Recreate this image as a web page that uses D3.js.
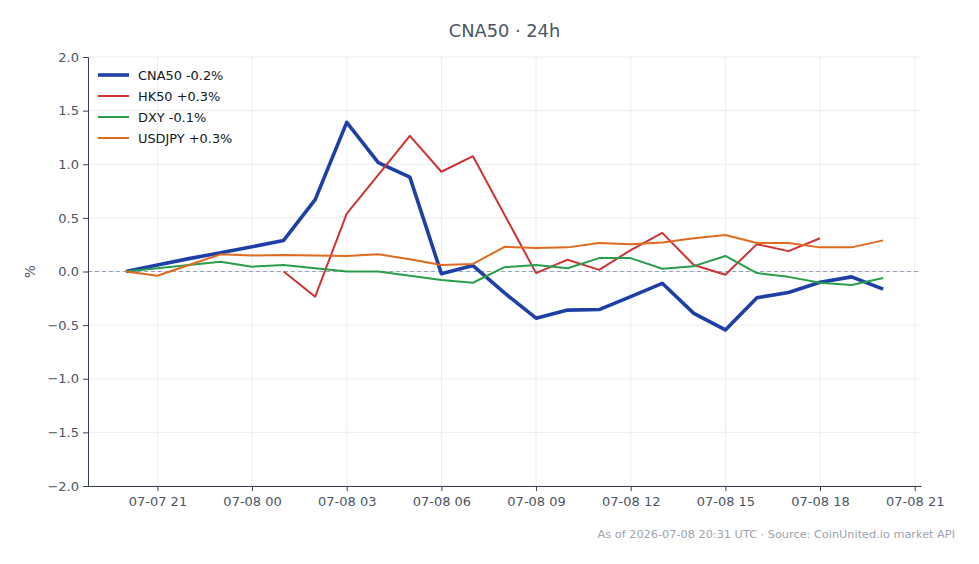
<!DOCTYPE html>
<html>
<head>
<meta charset="utf-8">
<script src="https://cdn.jsdelivr.net/npm/d3@7/dist/d3.min.js"></script>
<style>
  html, body { margin: 0; padding: 0; background: #fff; }
  svg { display: block; font-family: "DejaVu Sans", sans-serif; }
</style>
</head>
<body>
<div id="chart"></div>
<script>
// Hourly timestamps (UTC)
const times = [
  '2026-07-07T20:00Z', '2026-07-07T21:00Z', '2026-07-07T22:00Z', '2026-07-07T23:00Z',
  '2026-07-08T00:00Z', '2026-07-08T01:00Z', '2026-07-08T02:00Z', '2026-07-08T03:00Z',
  '2026-07-08T04:00Z', '2026-07-08T05:00Z', '2026-07-08T06:00Z', '2026-07-08T07:00Z',
  '2026-07-08T08:00Z', '2026-07-08T09:00Z', '2026-07-08T10:00Z', '2026-07-08T11:00Z',
  '2026-07-08T12:00Z', '2026-07-08T13:00Z', '2026-07-08T14:00Z', '2026-07-08T15:00Z',
  '2026-07-08T16:00Z', '2026-07-08T17:00Z', '2026-07-08T18:00Z', '2026-07-08T19:00Z',
  '2026-07-08T20:00Z'
];

// % change series (null = no quote)
const cna50 = [0.0, 0.06, 0.12, 0.175, 0.23, 0.29, 0.67, 1.39, 1.015, 0.88, -0.02, 0.055,
  -0.2, -0.435, -0.36, -0.355, -0.235, -0.11, -0.39, -0.545, -0.245, -0.195, -0.10, -0.05, -0.165];
const hk50 = [null, null, null, null, null, 0.0, -0.235, 0.54, 0.90, 1.265, 0.93, 1.075,
  0.53, -0.015, 0.11, 0.015, 0.20, 0.36, 0.06, -0.03, 0.255, 0.19, 0.31, null, null];
const dxy = [0.0, 0.03, 0.06, 0.09, 0.045, 0.06, 0.03, 0.0, 0.0, -0.04, -0.08, -0.105,
  0.04, 0.06, 0.03, 0.125, 0.125, 0.025, 0.05, 0.145, -0.015, -0.05, -0.105, -0.125, -0.06];
const usdjpy = [0.0, -0.04, 0.06, 0.16, 0.15, 0.155, 0.15, 0.145, 0.16, 0.115, 0.06, 0.07,
  0.23, 0.22, 0.225, 0.265, 0.255, 0.27, 0.31, 0.34, 0.265, 0.265, 0.225, 0.225, 0.29];

const seriesNames = ['CNA50 -0.2%', 'HK50 +0.3%', 'DXY -0.1%', 'USDJPY +0.3%'];
const yTicks = [-2.0, -1.5, -1.0, -0.5, 0.0, 0.5, 1.0, 1.5, 2.0];

const titleText = 'CNA50 · 24h';
const footerText = 'As of 2026-07-08 20:31 UTC · Source: CoinUnited.io market API';

const width = 979;
const height = 564;
const margin = { top: 57, right: 58, bottom: 78, left: 88 };
const innerW = width - margin.left - margin.right;
const innerH = height - margin.top - margin.bottom;

const textColor = '#4b5563';
const axisColor = '#374151';
const gridColor = '#e5e7eb';

const series = [
  { name: seriesNames[0], values: cna50, color: '#1e40a6', width: 3.6 },
  { name: seriesNames[1], values: hk50, color: '#cc3333', width: 2 },
  { name: seriesNames[2], values: dxy, color: '#2a9d4a', width: 2 },
  { name: seriesNames[3], values: usdjpy, color: '#e06a1f', width: 2 }
];

const dates = times.map((t) => new Date(t));
const t0 = dates[0];
const t1 = dates[dates.length - 1];
const pad = (t1 - t0) * 0.05;

const x = d3.scaleUtc()
  .domain([new Date(+t0 - pad), new Date(+t1 + pad)])
  .range([0, innerW]);
const y = d3.scaleLinear().domain([-2, 2]).range([innerH, 0]);

const svg = d3.select('#chart')
  .append('svg')
  .attr('width', width)
  .attr('height', height);

svg.append('text')
  .attr('x', margin.left + innerW / 2)
  .attr('y', 37)
  .attr('text-anchor', 'middle')
  .attr('fill', textColor)
  .attr('font-size', 17.8)
  .text(titleText);

const g = svg.append('g').attr('transform', `translate(${margin.left},${margin.top})`);

const xTicks = d3.utcHour.every(3).range(new Date('2026-07-07T21:00Z'), new Date('2026-07-08T21:30Z'));
const fmt = d3.utcFormat('%m-%d %H');

/* Grid */
g.append('g')
  .selectAll('line.vgrid')
  .data(xTicks)
  .join('line')
  .attr('x1', (d) => x(d)).attr('x2', (d) => x(d))
  .attr('y1', 0).attr('y2', innerH)
  .attr('stroke', gridColor).attr('stroke-width', 0.8);

g.append('g')
  .selectAll('line.hgrid')
  .data(yTicks)
  .join('line')
  .attr('x1', 0).attr('x2', innerW)
  .attr('y1', (d) => y(d)).attr('y2', (d) => y(d))
  .attr('stroke', gridColor).attr('stroke-width', 0.8);

/* Zero line */
g.append('line')
  .attr('x1', 0).attr('x2', innerW)
  .attr('y1', y(0)).attr('y2', y(0))
  .attr('stroke', '#94a3b8')
  .attr('stroke-width', 1)
  .attr('stroke-dasharray', '4,3');

/* Lines */
const line = d3.line()
  .defined((d) => d.v !== null)
  .x((d) => x(d.t))
  .y((d) => y(d.v));

series.forEach((s) => {
  g.append('path')
    .datum(s.values.map((v, i) => ({ t: dates[i], v })))
    .attr('fill', 'none')
    .attr('stroke', s.color)
    .attr('stroke-width', s.width)
    .attr('stroke-linejoin', 'round')
    .attr('d', line);
});

/* Axes */
const yAxis = g.append('g')
  .call(d3.axisLeft(y).tickValues(yTicks).tickFormat((d) => d3.format('.1f')(d).replace('-', '\u2212')).tickSize(5).tickPadding(4));
yAxis.select('.domain').attr('stroke', axisColor);
yAxis.selectAll('line').attr('stroke', axisColor);
yAxis.selectAll('text').attr('fill', textColor).attr('font-size', 13).attr('font-family', 'DejaVu Sans');

const xAxis = g.append('g')
  .attr('transform', `translate(0,${innerH})`)
  .call(d3.axisBottom(x).tickValues(xTicks).tickFormat(fmt).tickSize(5).tickPadding(6).tickSizeOuter(0));
xAxis.select('.domain').attr('stroke', axisColor);
xAxis.selectAll('line').attr('stroke', axisColor);
xAxis.selectAll('text').attr('fill', textColor).attr('font-size', 13).attr('font-family', 'DejaVu Sans');

svg.append('text')
  .attr('transform', `translate(35,${margin.top + y(0)}) rotate(-90)`)
  .attr('text-anchor', 'middle')
  .attr('fill', textColor)
  .attr('font-size', 13.5)
  .text('%');

/* Legend */
const legend = g.append('g').attr('transform', 'translate(10,18)');
series.forEach((s, i) => {
  const row = legend.append('g').attr('transform', `translate(0,${i * 21})`);
  row.append('line')
    .attr('x1', 0).attr('x2', 31)
    .attr('y1', 0).attr('y2', 0)
    .attr('stroke', s.color)
    .attr('stroke-width', s.width);
  row.append('text')
    .attr('x', 40)
    .attr('y', 4.6)
    .attr('fill', '#111827')
    .attr('font-size', 12.9)
    .text(s.name);
});

/* Footer */
svg.append('text')
  .attr('x', 955)
  .attr('y', 538)
  .attr('text-anchor', 'end')
  .attr('fill', '#9ca3af')
  .attr('font-size', 11.3)
  .text(footerText);
</script>
</body>
</html>
